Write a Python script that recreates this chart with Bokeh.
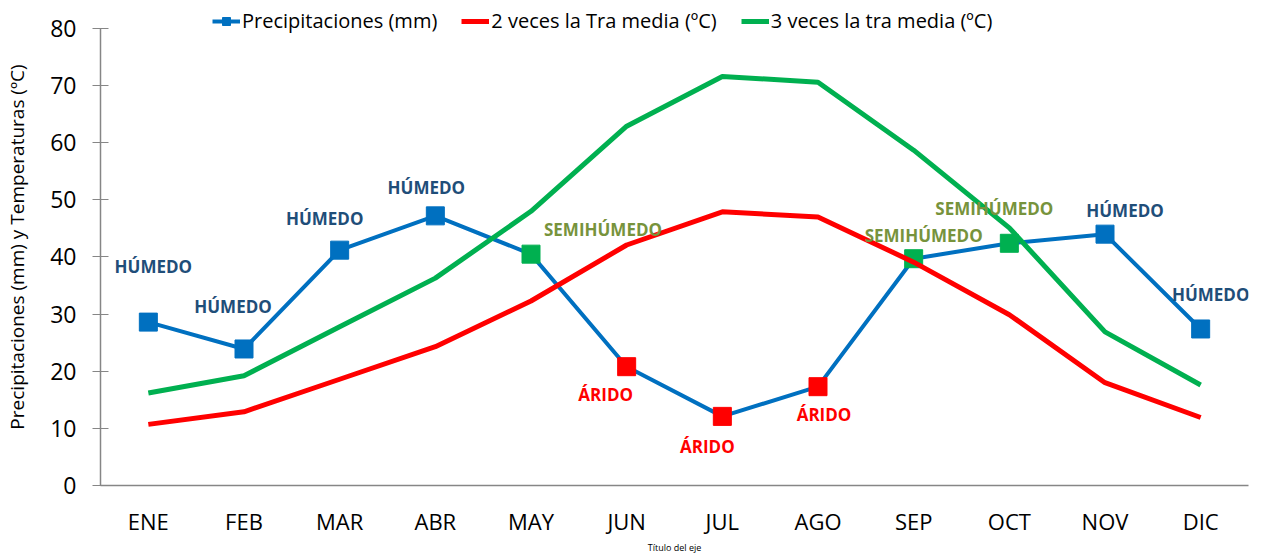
from bokeh.plotting import figure
from bokeh.models import ColumnDataSource, FactorRange, Range1d, Legend, LegendItem, FixedTicker
from bokeh.core.properties import value
from bokeh.embed import file_html
from bokeh.resources import INLINE

# ---- data ----
months = ["ENE", "FEB", "MAR", "ABR", "MAY", "JUN", "JUL", "AGO", "SEP", "OCT", "NOV", "DIC"]
precip = [28.6, 23.9, 41.2, 47.2, 40.5, 20.8, 12.1, 17.3, 39.7, 42.4, 44.0, 27.4]
temp_x2 = [10.7, 12.9, 18.6, 24.3, 32.3, 42.1, 47.9, 47.0, 39.1, 29.9, 18.0, 11.9]
temp_x3 = [16.2, 19.2, 27.8, 36.3, 48.0, 62.9, 71.6, 70.6, 58.7, 45.1, 26.9, 17.6]
climate = ["HÚMEDO", "HÚMEDO", "HÚMEDO", "HÚMEDO", "SEMIHÚMEDO", "ÁRIDO",
           "ÁRIDO", "ÁRIDO", "SEMIHÚMEDO", "SEMIHÚMEDO", "HÚMEDO", "HÚMEDO"]
y_ticks = [0, 10, 20, 30, 40, 50, 60, 70, 80]

# ---- styles ----
marker_colors = {"HÚMEDO": "#0070C0", "SEMIHÚMEDO": "#00B050", "ÁRIDO": "#FF0000"}
text_colors = {"HÚMEDO": "#1F4E79", "SEMIHÚMEDO": "#77933C", "ÁRIDO": "#FF0000"}
label_dx = [5, -11, -15, -9, 72, -21, -15, 6, 10, -15, 20, 10]
label_dy = [-56, -42, -32, -28, -25, 28, 30, 28, -23, -35, -24, -34]

src = ColumnDataSource(dict(
    month=months, precip=precip, t2=temp_x2, t3=temp_x3, climate=climate,
    mcolor=[marker_colors[c] for c in climate],
    tcolor=[text_colors[c] for c in climate],
    dx=label_dx, dy=label_dy,
))

FONT = "Open Sans"

# y range reaches a little above 80 so the legend can sit above the axis top
p = figure(width=1260, height=556, x_range=FactorRange(factors=months),
           y_range=Range1d(0, 83.5), output_backend="svg", toolbar_location=None,
           min_border_left=100, min_border_right=12, min_border_top=8, min_border_bottom=70)
p.outline_line_color = None
p.xgrid.grid_line_color = None
p.ygrid.grid_line_color = None
p.background_fill_color = "white"
p.border_fill_color = "white"

r_pline = p.line("month", "precip", source=src, line_color="#0070C0", line_width=4)
r_pmark = p.scatter("month", "precip", source=src, marker="square", size=18,
                    fill_color="mcolor", line_color="mcolor")
r_t2 = p.line("month", "t2", source=src, line_color="#FF0000", line_width=5)
r_t3 = p.line("month", "t3", source=src, line_color="#00B050", line_width=5)

p.text(x="month", y="precip", text="climate", source=src, x_offset="dx", y_offset="dy",
       text_color="tcolor", text_font=value(FONT), text_font_style="bold",
       text_font_size="17px", text_align="center", text_baseline="middle")

# axes
p.yaxis.ticker = FixedTicker(ticks=y_ticks)
p.yaxis.bounds = (0, 80)
p.yaxis.axis_label = "Precipitaciones (mm) y Temperaturas (ºC)"
p.yaxis.axis_label_text_font = FONT
p.yaxis.axis_label_text_font_style = "normal"
p.yaxis.axis_label_text_font_size = "19px"
p.yaxis.axis_label_text_color = "#000000"
p.yaxis.axis_label_standoff = 17
p.yaxis.major_label_text_font = FONT
p.yaxis.major_label_text_font_size = "23px"
p.yaxis.major_label_text_color = "#000000"
p.yaxis.major_label_standoff = 16
p.yaxis.major_tick_in = 8
p.yaxis.major_tick_out = 8
p.yaxis.minor_tick_line_color = None
p.yaxis.axis_line_color = "#868686"
p.yaxis.major_tick_line_color = "#868686"
p.yaxis.axis_line_width = 1.5

p.xaxis.axis_label = "Título del eje"
p.xaxis.axis_label_text_font = FONT
p.xaxis.axis_label_text_font_style = "normal"
p.xaxis.axis_label_text_font_size = "9px"
p.xaxis.axis_label_text_color = "#000000"
p.xaxis.axis_label_standoff = 2
p.xaxis.major_label_text_font = FONT
p.xaxis.major_label_text_font_size = "22px"
p.xaxis.major_label_text_color = "#000000"
p.xaxis.major_label_standoff = 20
p.xaxis.major_tick_in = 0
p.xaxis.major_tick_out = 0
p.xaxis.axis_line_color = "#868686"
p.xaxis.axis_line_width = 1.5

legend = Legend(items=[
    LegendItem(label="Precipitaciones (mm)", renderers=[r_pline, r_pmark], index=0),
    LegendItem(label="2 veces la Tra media (ºC)", renderers=[r_t2]),
    LegendItem(label="3 veces la tra media (ºC)", renderers=[r_t3]),
], orientation="horizontal", location=(112, 451))
legend.label_text_font = FONT
legend.label_text_font_size = "20px"
legend.label_text_color = "#000000"
legend.border_line_color = None
legend.background_fill_alpha = 0
legend.padding = 0
legend.margin = 0
legend.spacing = 24
legend.glyph_width = 28
legend.label_standoff = 2
p.add_layout(legend, "center")

open("out.html", "w").write(file_html(p, INLINE))
